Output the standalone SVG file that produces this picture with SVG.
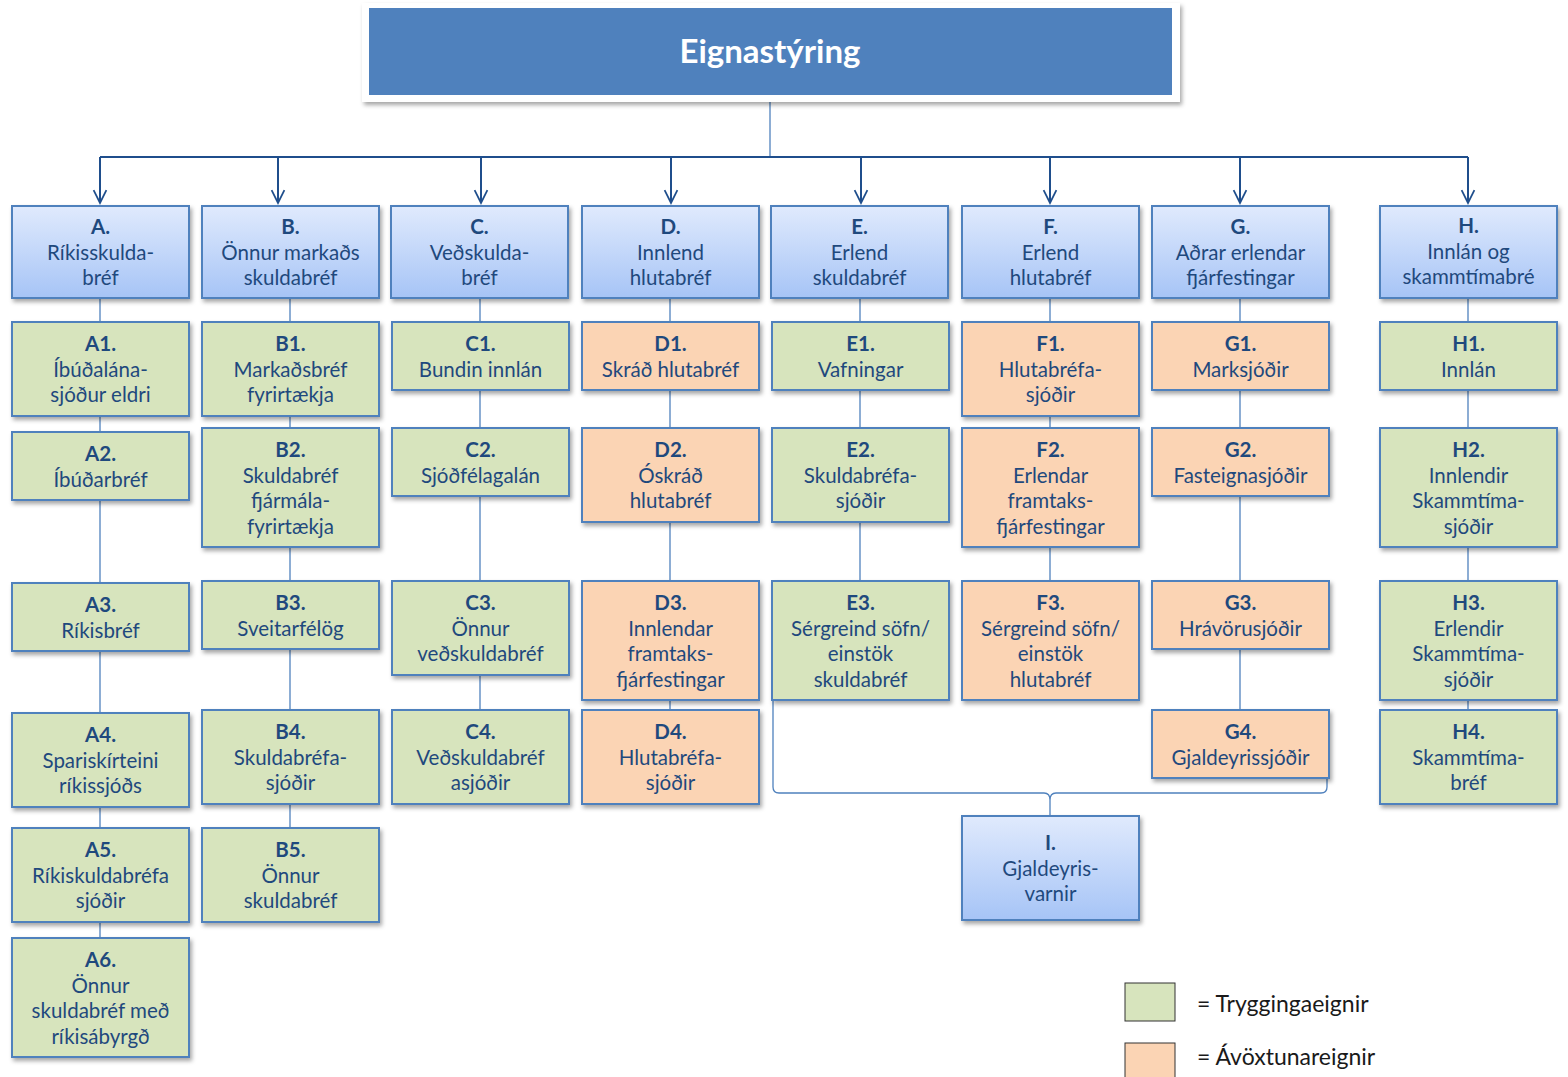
<svg xmlns="http://www.w3.org/2000/svg" width="1568" height="1077" viewBox="0 0 1568 1077">
<defs>
<linearGradient id="hg" x1="0" y1="0" x2="0" y2="1">
<stop offset="0" stop-color="#E0EAFD"/>
<stop offset="1" stop-color="#A6C4F6"/>
</linearGradient>
<filter id="sh" x="-10%" y="-10%" width="125%" height="130%">
<feDropShadow dx="2" dy="3" stdDeviation="2" flood-color="#000" flood-opacity="0.35"/>
</filter>
<marker id="arr" viewBox="0 0 10 10" refX="9" refY="5" markerWidth="8" markerHeight="8" orient="auto" markerUnits="strokeWidth">
<path d="M1,1 L9,5 L1,9" fill="none" stroke="#1F4E8C" stroke-width="1.1"/>
</marker>
<style>
.b{stroke:#4F81BD;stroke-width:2;filter:url(#sh)}
.h{fill:url(#hg)}
.g{fill:#D7E4BD}
.o{fill:#FBD4B4}
.t{font-family:Lato,"Open Sans",sans-serif;font-size:20.5px;fill:#1F497D;text-anchor:middle}
.l{font-weight:bold}
.c{stroke:#4F81BD;stroke-width:1.3;fill:none}
.a{stroke:#1F4E8C;stroke-width:2;fill:none}
</style>
</defs>
<rect width="1568" height="1077" fill="#fff"/>

<g id="connectors">
<path class="c" d="M770,95 V157"/>
<path class="a" d="M100,157 H1468"/>
<path class="a" d="M100,157 V203" marker-end="url(#arr)"/>
<path class="a" d="M278,157 V203" marker-end="url(#arr)"/>
<path class="a" d="M481,157 V203" marker-end="url(#arr)"/>
<path class="a" d="M671,157 V203" marker-end="url(#arr)"/>
<path class="a" d="M861,157 V203" marker-end="url(#arr)"/>
<path class="a" d="M1050,157 V203" marker-end="url(#arr)"/>
<path class="a" d="M1240,157 V203" marker-end="url(#arr)"/>
<path class="a" d="M1468,157 V203" marker-end="url(#arr)"/>
<path class="c" d="M100,298 V938"/>
<path class="c" d="M290,298 V828"/>
<path class="c" d="M480,298 V710"/>
<path class="c" d="M670,298 V710"/>
<path class="c" d="M860,298 V581"/>
<path class="c" d="M1050,298 V581"/>
<path class="c" d="M1240,298 V710"/>
<path class="c" d="M1468,298 V710"/>
<path class="c" d="M773,700 V787 Q773,793 779,793 H1044 Q1050,793 1050,800 V816 M1050,800 Q1050,793 1056,793 H1321 Q1327,793 1327,787 V778"/>
</g>

<g id="title">
<rect x="362" y="3" width="818" height="99" fill="#fff" filter="url(#sh)"/>
<rect x="369" y="8" width="803" height="87" fill="#4F81BD"/>
<text x="770" y="63" font-family="Lato,'Open Sans',sans-serif" font-size="33" font-weight="bold" fill="#fff" text-anchor="middle">Eignastýring</text>
</g>

<g id="A"><rect class="b h" x="12" y="206" width="177" height="92"/><text class="t" x="100.5" y="234"><tspan class="l" x="100.5">A.</tspan><tspan x="100.5" dy="25.5">Ríkisskulda-</tspan><tspan x="100.5" dy="25.5">bréf</tspan></text></g>
<g id="B"><rect class="b h" x="202" y="206" width="177" height="92"/><text class="t" x="290.5" y="234"><tspan class="l" x="290.5">B.</tspan><tspan x="290.5" dy="25.5">Önnur markaðs</tspan><tspan x="290.5" dy="25.5">skuldabréf</tspan></text></g>
<g id="C"><rect class="b h" x="391" y="206" width="177" height="92"/><text class="t" x="479.5" y="234"><tspan class="l" x="479.5">C.</tspan><tspan x="479.5" dy="25.5">Veðskulda-</tspan><tspan x="479.5" dy="25.5">bréf</tspan></text></g>
<g id="D"><rect class="b h" x="582" y="206" width="177" height="92"/><text class="t" x="670.5" y="234"><tspan class="l" x="670.5">D.</tspan><tspan x="670.5" dy="25.5">Innlend</tspan><tspan x="670.5" dy="25.5">hlutabréf</tspan></text></g>
<g id="E"><rect class="b h" x="771" y="206" width="177" height="92"/><text class="t" x="859.5" y="234"><tspan class="l" x="859.5">E.</tspan><tspan x="859.5" dy="25.5">Erlend</tspan><tspan x="859.5" dy="25.5">skuldabréf</tspan></text></g>
<g id="F"><rect class="b h" x="962" y="206" width="177" height="92"/><text class="t" x="1050.5" y="234"><tspan class="l" x="1050.5">F.</tspan><tspan x="1050.5" dy="25.5">Erlend</tspan><tspan x="1050.5" dy="25.5">hlutabréf</tspan></text></g>
<g id="G"><rect class="b h" x="1152" y="206" width="177" height="92"/><text class="t" x="1240.5" y="234"><tspan class="l" x="1240.5">G.</tspan><tspan x="1240.5" dy="25.5">Aðrar erlendar</tspan><tspan x="1240.5" dy="25.5">fjárfestingar</tspan></text></g>
<g id="H"><rect class="b h" x="1380" y="206" width="177" height="92"/><text class="t" x="1468.5" y="233"><tspan class="l" x="1468.5">H.</tspan><tspan x="1468.5" dy="25.5">Innlán og</tspan><tspan x="1468.5" dy="25.5">skammtímabré</tspan></text></g>

<g id="A1"><rect class="b g" x="12" y="322" width="177" height="94"/><text class="t" y="351"><tspan class="l" x="100.5">A1.</tspan><tspan x="100.5" dy="25.5">Íbúðalána-</tspan><tspan x="100.5" dy="25.5">sjóður eldri</tspan></text></g>
<g id="A2"><rect class="b g" x="12" y="432" width="177" height="68"/><text class="t" y="461"><tspan class="l" x="100.5">A2.</tspan><tspan x="100.5" dy="25.5">Íbúðarbréf</tspan></text></g>
<g id="A3"><rect class="b g" x="12" y="583" width="177" height="68"/><text class="t" y="612"><tspan class="l" x="100.5">A3.</tspan><tspan x="100.5" dy="25.5">Ríkisbréf</tspan></text></g>
<g id="A4"><rect class="b g" x="12" y="713" width="177" height="94"/><text class="t" y="742"><tspan class="l" x="100.5">A4.</tspan><tspan x="100.5" dy="25.5">Spariskírteini</tspan><tspan x="100.5" dy="25.5">ríkissjóðs</tspan></text></g>
<g id="A5"><rect class="b g" x="12" y="828" width="177" height="94"/><text class="t" y="857"><tspan class="l" x="100.5">A5.</tspan><tspan x="100.5" dy="25.5">Ríkiskuldabréfa</tspan><tspan x="100.5" dy="25.5">sjóðir</tspan></text></g>
<g id="A6"><rect class="b g" x="12" y="938" width="177" height="119"/><text class="t" y="967"><tspan class="l" x="100.5">A6.</tspan><tspan x="100.5" dy="25.5">Önnur</tspan><tspan x="100.5" dy="25.5">skuldabréf með</tspan><tspan x="100.5" dy="25.5">ríkisábyrgð</tspan></text></g>

<g id="B1"><rect class="b g" x="202" y="322" width="177" height="94"/><text class="t" y="351"><tspan class="l" x="290.5">B1.</tspan><tspan x="290.5" dy="25.5">Markaðsbréf</tspan><tspan x="290.5" dy="25.5">fyrirtækja</tspan></text></g>
<g id="B2"><rect class="b g" x="202" y="428" width="177" height="119"/><text class="t" y="457"><tspan class="l" x="290.5">B2.</tspan><tspan x="290.5" dy="25.5">Skuldabréf</tspan><tspan x="290.5" dy="25.5">fjármála-</tspan><tspan x="290.5" dy="25.5">fyrirtækja</tspan></text></g>
<g id="B3"><rect class="b g" x="202" y="581" width="177" height="68"/><text class="t" y="610"><tspan class="l" x="290.5">B3.</tspan><tspan x="290.5" dy="25.5">Sveitarfélög</tspan></text></g>
<g id="B4"><rect class="b g" x="202" y="710" width="177" height="94"/><text class="t" y="739"><tspan class="l" x="290.5">B4.</tspan><tspan x="290.5" dy="25.5">Skuldabréfa-</tspan><tspan x="290.5" dy="25.5">sjóðir</tspan></text></g>
<g id="B5"><rect class="b g" x="202" y="828" width="177" height="94"/><text class="t" y="857"><tspan class="l" x="290.5">B5.</tspan><tspan x="290.5" dy="25.5">Önnur</tspan><tspan x="290.5" dy="25.5">skuldabréf</tspan></text></g>

<g id="C1"><rect class="b g" x="392" y="322" width="177" height="68"/><text class="t" y="351"><tspan class="l" x="480.5">C1.</tspan><tspan x="480.5" dy="25.5">Bundin innlán</tspan></text></g>
<g id="C2"><rect class="b g" x="392" y="428" width="177" height="68"/><text class="t" y="457"><tspan class="l" x="480.5">C2.</tspan><tspan x="480.5" dy="25.5">Sjóðfélagalán</tspan></text></g>
<g id="C3"><rect class="b g" x="392" y="581" width="177" height="94"/><text class="t" y="610"><tspan class="l" x="480.5">C3.</tspan><tspan x="480.5" dy="25.5">Önnur</tspan><tspan x="480.5" dy="25.5">veðskuldabréf</tspan></text></g>
<g id="C4"><rect class="b g" x="392" y="710" width="177" height="94"/><text class="t" y="739"><tspan class="l" x="480.5">C4.</tspan><tspan x="480.5" dy="25.5">Veðskuldabréf</tspan><tspan x="480.5" dy="25.5">asjóðir</tspan></text></g>

<g id="D1"><rect class="b o" x="582" y="322" width="177" height="68"/><text class="t" y="351"><tspan class="l" x="670.5">D1.</tspan><tspan x="670.5" dy="25.5">Skráð hlutabréf</tspan></text></g>
<g id="D2"><rect class="b o" x="582" y="428" width="177" height="94"/><text class="t" y="457"><tspan class="l" x="670.5">D2.</tspan><tspan x="670.5" dy="25.5">Óskráð</tspan><tspan x="670.5" dy="25.5">hlutabréf</tspan></text></g>
<g id="D3"><rect class="b o" x="582" y="581" width="177" height="119"/><text class="t" y="610"><tspan class="l" x="670.5">D3.</tspan><tspan x="670.5" dy="25.5">Innlendar</tspan><tspan x="670.5" dy="25.5">framtaks-</tspan><tspan x="670.5" dy="25.5">fjárfestingar</tspan></text></g>
<g id="D4"><rect class="b o" x="582" y="710" width="177" height="94"/><text class="t" y="739"><tspan class="l" x="670.5">D4.</tspan><tspan x="670.5" dy="25.5">Hlutabréfa-</tspan><tspan x="670.5" dy="25.5">sjóðir</tspan></text></g>

<g id="E1"><rect class="b g" x="772" y="322" width="177" height="68"/><text class="t" y="351"><tspan class="l" x="860.5">E1.</tspan><tspan x="860.5" dy="25.5">Vafningar</tspan></text></g>
<g id="E2"><rect class="b g" x="772" y="428" width="177" height="94"/><text class="t" y="457"><tspan class="l" x="860.5">E2.</tspan><tspan x="860.5" dy="25.5">Skuldabréfa-</tspan><tspan x="860.5" dy="25.5">sjóðir</tspan></text></g>
<g id="E3"><rect class="b g" x="772" y="581" width="177" height="119"/><text class="t" y="610"><tspan class="l" x="860.5">E3.</tspan><tspan x="860.5" dy="25.5">Sérgreind söfn/</tspan><tspan x="860.5" dy="25.5">einstök</tspan><tspan x="860.5" dy="25.5">skuldabréf</tspan></text></g>

<g id="F1"><rect class="b o" x="962" y="322" width="177" height="94"/><text class="t" y="351"><tspan class="l" x="1050.5">F1.</tspan><tspan x="1050.5" dy="25.5">Hlutabréfa-</tspan><tspan x="1050.5" dy="25.5">sjóðir</tspan></text></g>
<g id="F2"><rect class="b o" x="962" y="428" width="177" height="119"/><text class="t" y="457"><tspan class="l" x="1050.5">F2.</tspan><tspan x="1050.5" dy="25.5">Erlendar</tspan><tspan x="1050.5" dy="25.5">framtaks-</tspan><tspan x="1050.5" dy="25.5">fjárfestingar</tspan></text></g>
<g id="F3"><rect class="b o" x="962" y="581" width="177" height="119"/><text class="t" y="610"><tspan class="l" x="1050.5">F3.</tspan><tspan x="1050.5" dy="25.5">Sérgreind söfn/</tspan><tspan x="1050.5" dy="25.5">einstök</tspan><tspan x="1050.5" dy="25.5">hlutabréf</tspan></text></g>

<g id="G1"><rect class="b o" x="1152" y="322" width="177" height="68"/><text class="t" y="351"><tspan class="l" x="1240.5">G1.</tspan><tspan x="1240.5" dy="25.5">Marksjóðir</tspan></text></g>
<g id="G2"><rect class="b o" x="1152" y="428" width="177" height="68"/><text class="t" y="457"><tspan class="l" x="1240.5">G2.</tspan><tspan x="1240.5" dy="25.5">Fasteignasjóðir</tspan></text></g>
<g id="G3"><rect class="b o" x="1152" y="581" width="177" height="68"/><text class="t" y="610"><tspan class="l" x="1240.5">G3.</tspan><tspan x="1240.5" dy="25.5">Hrávörusjóðir</tspan></text></g>
<g id="G4"><rect class="b o" x="1152" y="710" width="177" height="68"/><text class="t" y="739"><tspan class="l" x="1240.5">G4.</tspan><tspan x="1240.5" dy="25.5">Gjaldeyrissjóðir</tspan></text></g>

<g id="H1"><rect class="b g" x="1380" y="322" width="177" height="68"/><text class="t" y="351"><tspan class="l" x="1468.5">H1.</tspan><tspan x="1468.5" dy="25.5">Innlán</tspan></text></g>
<g id="H2"><rect class="b g" x="1380" y="428" width="177" height="119"/><text class="t" y="457"><tspan class="l" x="1468.5">H2.</tspan><tspan x="1468.5" dy="25.5">Innlendir</tspan><tspan x="1468.5" dy="25.5">Skammtíma-</tspan><tspan x="1468.5" dy="25.5">sjóðir</tspan></text></g>
<g id="H3"><rect class="b g" x="1380" y="581" width="177" height="119"/><text class="t" y="610"><tspan class="l" x="1468.5">H3.</tspan><tspan x="1468.5" dy="25.5">Erlendir</tspan><tspan x="1468.5" dy="25.5">Skammtíma-</tspan><tspan x="1468.5" dy="25.5">sjóðir</tspan></text></g>
<g id="H4"><rect class="b g" x="1380" y="710" width="177" height="94"/><text class="t" y="739"><tspan class="l" x="1468.5">H4.</tspan><tspan x="1468.5" dy="25.5">Skammtíma-</tspan><tspan x="1468.5" dy="25.5">bréf</tspan></text></g>

<g id="I"><rect class="b h" x="962" y="816" width="177" height="104"/><text class="t" y="850"><tspan class="l" x="1050.5">I.</tspan><tspan x="1050.5" dy="25.5">Gjaldeyris-</tspan><tspan x="1050.5" dy="25.5">varnir</tspan></text></g>

<g id="legend">
<rect x="1125" y="983" width="50" height="38" fill="#D7E4BD" stroke="#333" stroke-width="1"/>
<rect x="1125" y="1043" width="50" height="40" fill="#FBD4B4" stroke="#333" stroke-width="1"/>
<text x="1197" y="1012" font-family="Lato,'Open Sans',sans-serif" font-size="23" fill="#1a1a1a">= Tryggingaeignir</text>
<text x="1197" y="1065" font-family="Lato,'Open Sans',sans-serif" font-size="23" fill="#1a1a1a">= Ávöxtunareignir</text>
</g>
</svg>
